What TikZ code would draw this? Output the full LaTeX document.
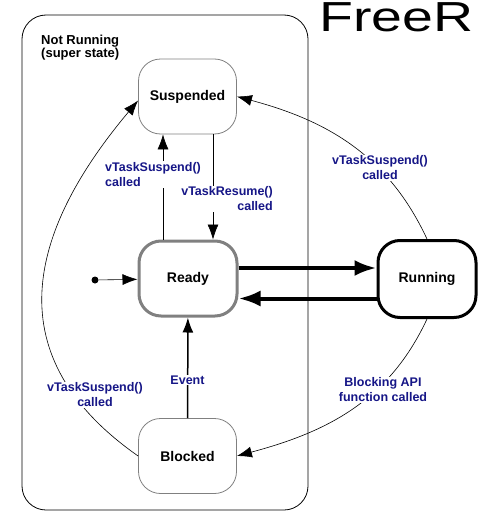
\documentclass[tikz,border=0pt]{standalone}
\usepackage{fontspec}
\setmainfont{Liberation Sans}
\usetikzlibrary{arrows.meta}
\definecolor{lblblue}{RGB}{22,22,135}
\definecolor{boxgray}{RGB}{128,128,128}
\begin{document}
\begin{tikzpicture}[x=1pt,y=1pt,
  state/.style={draw=boxgray,line width=0.8pt,fill=white,rounded corners=22pt,
    minimum width=98pt,minimum height=75pt,font=\fontsize{14}{16}\selectfont\bfseries},
  lbl/.style={font=\fontsize{12.5}{15}\selectfont\bfseries,text=lblblue,fill=white,inner sep=1pt},
  trans/.style={-{Latex[length=15pt,width=11pt]},line width=0.6pt},
  bigtrans/.style={-{Latex[length=22pt,width=16pt]},line width=4pt}]
\clip (0,0) rectangle (483,-530);
%\draw[step=10pt,very thin,color=gray] (0,0) grid (483,-530);
\node[anchor=base west,inner sep=0,font=\fontsize{42}{42}\selectfont,xscale=1.32] (title) at (319,-31) {FreeR};
% super state
\draw[rounded corners=24pt,line width=0.8pt] (22,-15) rectangle (308,-510);
\node[anchor=north west,align=left,inner sep=0,font=\fontsize{13}{13}\selectfont\bfseries] (notrun) at (41,-35) {Not Running\\(super state)};
% states
\node[state] (susp) at (187.5,-96.5) {Suspended};
\node[state,line width=3pt] (ready) at (188,-278.5) {Ready};
\node[state,draw=black,line width=3pt,minimum width=98pt,minimum height=77pt] (run) at (427,-279) {Running};
\node[state] (blk) at (187.5,-456) {Blocked};
\node[circle,fill,inner sep=0,minimum size=7pt] (init) at (95,-280) {};
% transitions
\draw[trans] (init) -- (ready);
\draw[trans] ([xshift=-25pt]ready.north) -- ([xshift=-24.5pt]susp.south);
\draw[trans] ([xshift=25.5pt]susp.south) -- ([xshift=25pt]ready.north);
\draw[bigtrans] ([yshift=10.5pt]ready.east) -- ([yshift=10.5pt]ready.east -| run.west);
\draw[bigtrans] ([yshift=-19.5pt]run.west) -- ([yshift=-19.5pt]run.west -| ready.east);
\draw[-{Latex[length=15pt,width=11pt]},line width=1.5pt] (blk) -- (ready);
\draw[trans] (blk.west) to[out=145,in=-130,looseness=1.25] ([yshift=-4pt]susp.west);
\draw[trans] (run.north) to[out=115,in=-15] (susp.east);
\draw[trans] (run.south) to[out=-115,in=15] (blk.east);
% labels
\node[lbl,align=left,anchor=west] (lsusp) at (104,-174.5) {vTaskSuspend()\\called};
\node[lbl,align=right,anchor=east] (lres) at (274,-199) {vTaskResume()\\called};
\node[lbl,align=center] (rsusp) at (380,-168) {vTaskSuspend()\\called};
\node[lbl,align=center] (bsusp) at (95,-395) {vTaskSuspend()\\called};
\node[lbl] (event) at (187.5,-380) {Event};
\node[lbl,align=center] (block) at (383,-390) {Blocking API\\function called};
\end{tikzpicture}
\end{document}
